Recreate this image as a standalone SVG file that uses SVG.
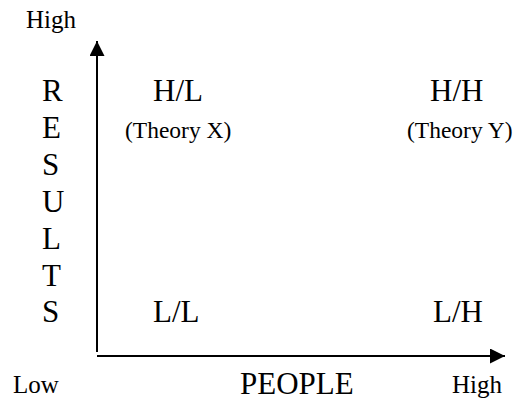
<svg xmlns="http://www.w3.org/2000/svg" width="517" height="402" viewBox="0 0 517 402">
<style>
text{font-family:"Liberation Serif","Times New Roman",serif;fill:#000}
.big{font-size:31px}
.mid{font-size:25px}
.sm{font-size:23.5px}
.ax{stroke:#000;stroke-width:2;fill:none}
</style>
<defs>
<marker id="ah" viewBox="0 0 15 15" refX="15" refY="7.5" markerWidth="15" markerHeight="15" markerUnits="userSpaceOnUse" orient="auto">
<path d="M0,0 L15,7.5 L0,15 Z" fill="#000"/>
</marker>
</defs>
<rect width="517" height="402" fill="#fff"/>
<g id="connectors">
<line class="ax" x1="97" y1="352" x2="97" y2="41" marker-end="url(#ah)"/>
<line class="ax" x1="97" y1="356" x2="505" y2="356" marker-end="url(#ah)"/>
</g>
<g id="y-axis-label">
<text class="mid" x="26" y="28">High</text>
<text class="big" x="42" y="101">R</text>
<text class="big" x="42" y="138">E</text>
<text class="big" x="42" y="175">S</text>
<text class="big" x="42" y="212">U</text>
<text class="big" x="42" y="249">L</text>
<text class="big" x="42" y="286">T</text>
<text class="big" x="42" y="322">S</text>
</g>
<g id="x-axis-label">
<text class="mid" x="13" y="393">Low</text>
<text class="big" x="240" y="394">PEOPLE</text>
<text class="mid" x="452" y="393">High</text>
</g>
<g id="hl">
<text class="big" x="153" y="101">H/L</text>
<text class="sm" x="125" y="138">(Theory X)</text>
</g>
<g id="hh">
<text class="big" x="430" y="101">H/H</text>
<text class="sm" x="407" y="138">(Theory Y)</text>
</g>
<g id="ll">
<text class="big" x="153" y="322">L/L</text>
</g>
<g id="lh">
<text class="big" x="433" y="322">L/H</text>
</g>
</svg>
